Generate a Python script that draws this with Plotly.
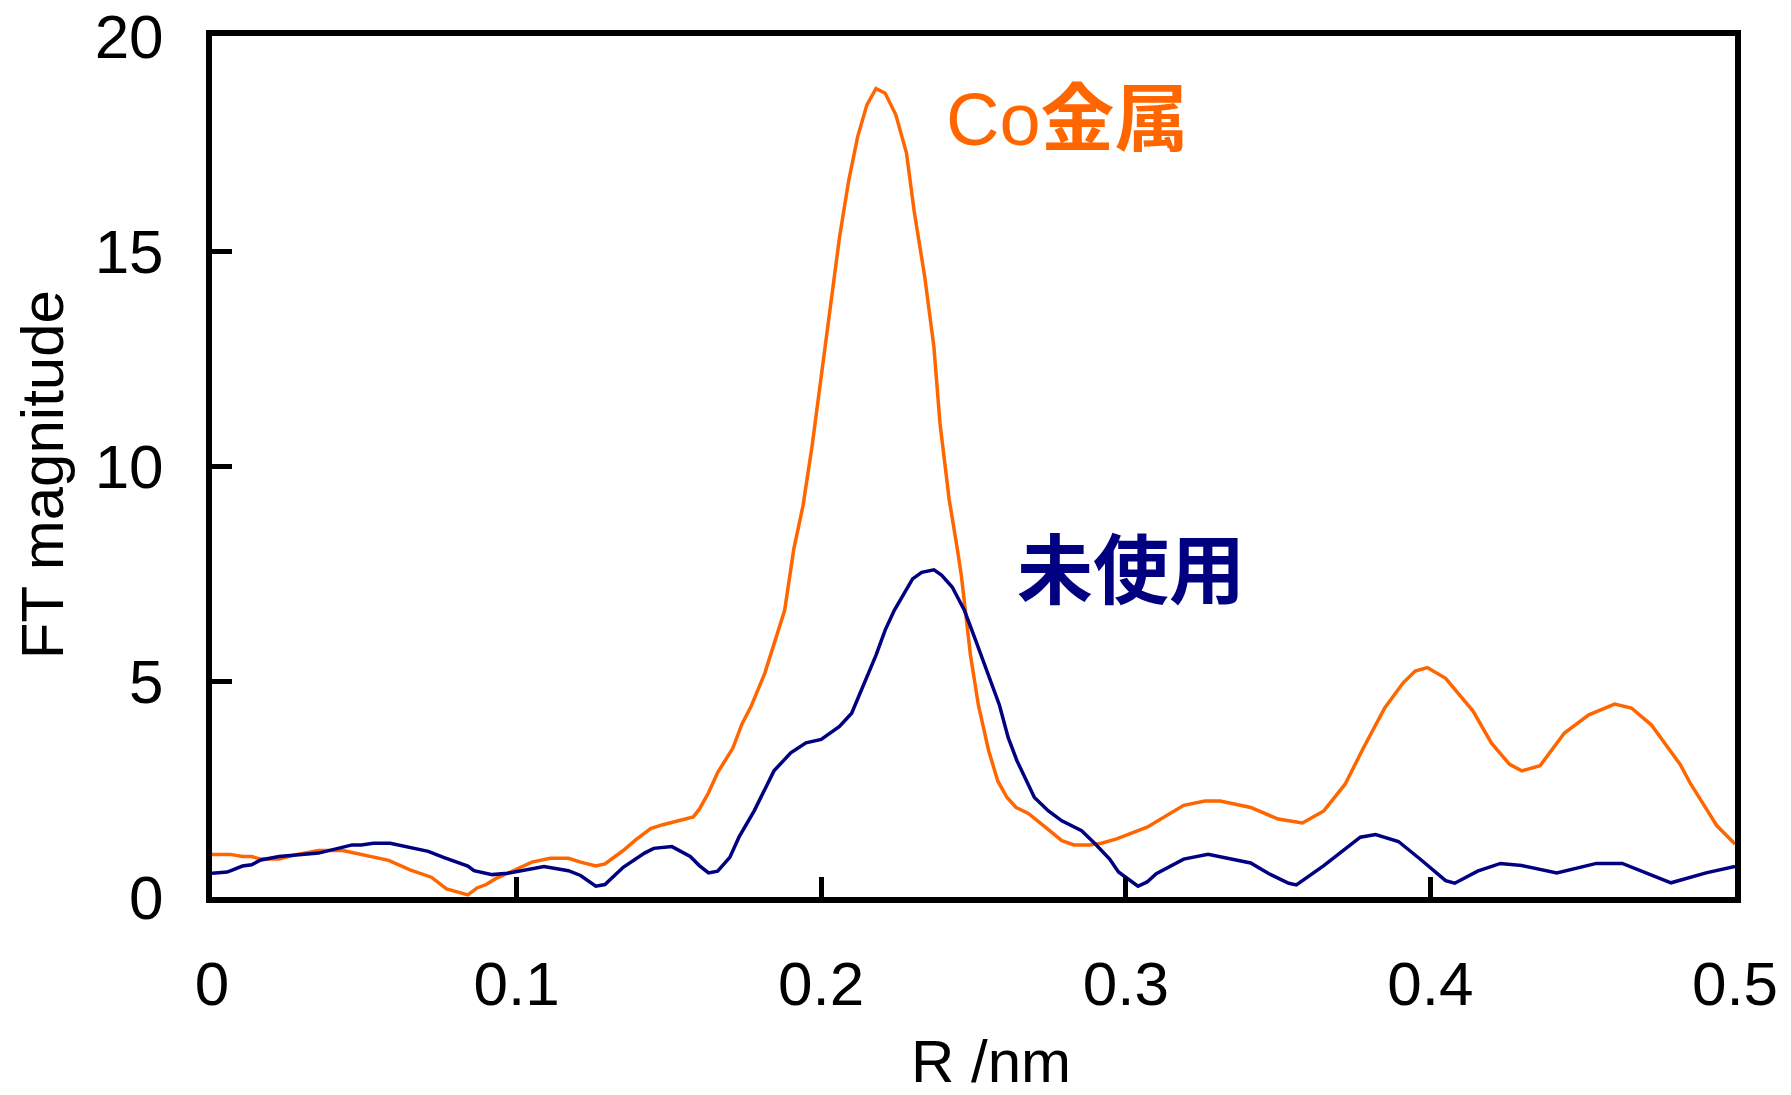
import plotly.graph_objects as go

# Co metal (orange) — R in nm, FT magnitude
co_r = [0.000, 0.006, 0.010, 0.013, 0.016, 0.022, 0.028, 0.035, 0.043, 0.047,
        0.058, 0.065, 0.072, 0.077, 0.084, 0.087, 0.090, 0.093, 0.105, 0.111,
        0.117, 0.121, 0.126, 0.129, 0.135, 0.139, 0.144, 0.148, 0.153, 0.158,
        0.160, 0.163, 0.166, 0.171, 0.174, 0.177, 0.1815, 0.188, 0.191, 0.194,
        0.197, 0.200, 0.203, 0.206, 0.209, 0.212, 0.215, 0.218, 0.221, 0.2245,
        0.228, 0.2305, 0.234, 0.237, 0.239, 0.242, 0.2447, 0.246, 0.249, 0.2516,
        0.255, 0.258, 0.261, 0.264, 0.268, 0.271, 0.274, 0.279, 0.283, 0.288,
        0.292, 0.297, 0.307, 0.319, 0.326, 0.331, 0.341, 0.350, 0.358, 0.365,
        0.372, 0.378, 0.385, 0.391, 0.395, 0.399, 0.405, 0.414, 0.420, 0.426,
        0.430, 0.436, 0.444, 0.452, 0.4605, 0.466, 0.4725, 0.482, 0.4855, 0.491,
        0.494, 0.500]
co_ft = [0.99, 0.99, 0.94, 0.94, 0.88, 0.88, 0.99, 1.08, 1.08, 1.02,
         0.85, 0.63, 0.46, 0.19, 0.05, 0.21, 0.29, 0.42, 0.81, 0.90,
         0.90, 0.81, 0.72, 0.77, 1.08, 1.32, 1.59, 1.68, 1.76, 1.86,
         2.04, 2.42, 2.89, 3.46, 4.02, 4.43, 5.20, 6.66, 8.08, 9.08,
         10.47, 12.05, 13.70, 15.32, 16.63, 17.67, 18.40, 18.78, 18.67, 18.17,
         17.28, 15.94, 14.40, 12.78, 11.00, 9.24, 8.08, 7.47, 5.62, 4.46,
         3.39, 2.69, 2.31, 2.08, 1.94, 1.76, 1.60, 1.31, 1.21, 1.21,
         1.25, 1.35, 1.62, 2.13, 2.23, 2.23, 2.08, 1.81, 1.72, 2.00,
         2.62, 3.46, 4.39, 4.97, 5.25, 5.33, 5.08, 4.32, 3.58, 3.08,
         2.93, 3.05, 3.81, 4.23, 4.48, 4.39, 4.00, 3.08, 2.62, 2.00,
         1.66, 1.23]

# Unused (navy)
un_r = [0.000, 0.005, 0.010, 0.013, 0.016, 0.022, 0.035, 0.046, 0.049, 0.053,
        0.0585, 0.065, 0.071, 0.076, 0.084, 0.086, 0.092, 0.097, 0.104, 0.109,
        0.117, 0.121, 0.126, 0.129, 0.135, 0.142, 0.145, 0.151, 0.157, 0.160,
        0.163, 0.166, 0.170, 0.173, 0.178, 0.1845, 0.190, 0.195, 0.200, 0.206,
        0.210, 0.218, 0.221, 0.224, 0.230, 0.233, 0.237, 0.2395, 0.243, 0.247,
        0.2505, 0.2585, 0.2614, 0.2643, 0.270, 0.2746, 0.279, 0.2855, 0.290, 0.2947,
        0.2976, 0.304, 0.307, 0.310, 0.319, 0.327, 0.341, 0.347, 0.3535, 0.356,
        0.365, 0.372, 0.377, 0.382, 0.3895, 0.397, 0.405, 0.408, 0.4155, 0.423,
        0.430, 0.4415, 0.4545, 0.463, 0.479, 0.4905, 0.500]
un_ft = [0.55, 0.58, 0.72, 0.75, 0.86, 0.94, 1.02, 1.21, 1.21, 1.25,
         1.25, 1.15, 1.06, 0.92, 0.72, 0.61, 0.52, 0.55, 0.65, 0.71,
         0.61, 0.50, 0.25, 0.29, 0.69, 1.02, 1.13, 1.17, 0.94, 0.73,
         0.56, 0.60, 0.92, 1.39, 2.00, 2.93, 3.35, 3.58, 3.66, 3.96,
         4.27, 5.62, 6.20, 6.66, 7.39, 7.54, 7.60, 7.48, 7.20, 6.66,
         6.00, 4.46, 3.70, 3.16, 2.31, 2.00, 1.77, 1.54, 1.23, 0.88,
         0.58, 0.25, 0.35, 0.54, 0.88, 0.99, 0.79, 0.54, 0.32, 0.28,
         0.73, 1.12, 1.39, 1.45, 1.29, 0.86, 0.38, 0.32, 0.60, 0.78,
         0.73, 0.56, 0.78, 0.78, 0.33, 0.56, 0.71]

x_ticks = [0, 0.1, 0.2, 0.3, 0.4, 0.5]
x_tick_text = ["0", "0.1", "0.2", "0.3", "0.4", "0.5"]
y_ticks = [0, 5, 10, 15, 20]
y_tick_text = ["0", "5", "10", "15", "20"]

ORANGE = "#FF6600"
NAVY = "#000080"
FONT = "Liberation Sans, Arial, Noto Sans CJK JP, sans-serif"

fig = go.Figure()
fig.add_trace(go.Scatter(x=co_r, y=co_ft, mode="lines",
                         line=dict(color=ORANGE, width=3.5), name="Co金属"))
fig.add_trace(go.Scatter(x=un_r, y=un_ft, mode="lines",
                         line=dict(color=NAVY, width=3.5), name="未使用"))

fig.add_annotation(x=0.2402, y=18.05, xref="x", yref="y", text="Co<b>金属</b>",
                   showarrow=False, xanchor="left", yanchor="middle",
                   font=dict(family="Liberation Sans, Noto Sans CJK JP", size=74, color=ORANGE))
fig.add_annotation(x=0.2635, y=7.72, xref="x", yref="y", text="<b>未使用</b>",
                   showarrow=False, xanchor="left", yanchor="middle",
                   font=dict(family="Noto Sans CJK JP", size=76, color=NAVY))

# axis titles
fig.add_annotation(x=0.5118, y=-0.1905, xref="paper", yref="paper", text="R /nm",
                   showarrow=False, xanchor="center", yanchor="middle",
                   font=dict(family=FONT, size=60, color="black"))
fig.add_annotation(x=-0.1116, y=0.490, xref="paper", yref="paper", text="FT magnitude",
                   showarrow=False, xanchor="center", yanchor="middle", textangle=-90,
                   font=dict(family=FONT, size=60, color="black"))

axis_common = dict(showgrid=False, zeroline=False, showline=True, linecolor="black",
                   linewidth=6, mirror=True, ticks="inside", ticklen=20, tickwidth=5,
                   tickcolor="black", automargin=False, ticklabeloverflow="allow",
                   tickfont=dict(family=FONT, size=62, color="black"))

fig.update_xaxes(range=[0, 0.5], tickvals=x_ticks, ticktext=x_tick_text,
                 ticklabelstandoff=28, **axis_common)
fig.update_yaxes(range=[0, 20], tickvals=y_ticks, ticktext=y_tick_text,
                 ticklabelstandoff=30, **axis_common)

fig.update_layout(width=1791, height=1095,
                  margin=dict(l=212, r=56, t=36, b=198),
                  paper_bgcolor="white", plot_bgcolor="white",
                  showlegend=False,
                  font=dict(family=FONT, color="black"))

fig.write_html("out.html", config={"displayModeBar": False},
               post_script="document.body.style.margin='0';document.body.style.overflow='hidden';")
